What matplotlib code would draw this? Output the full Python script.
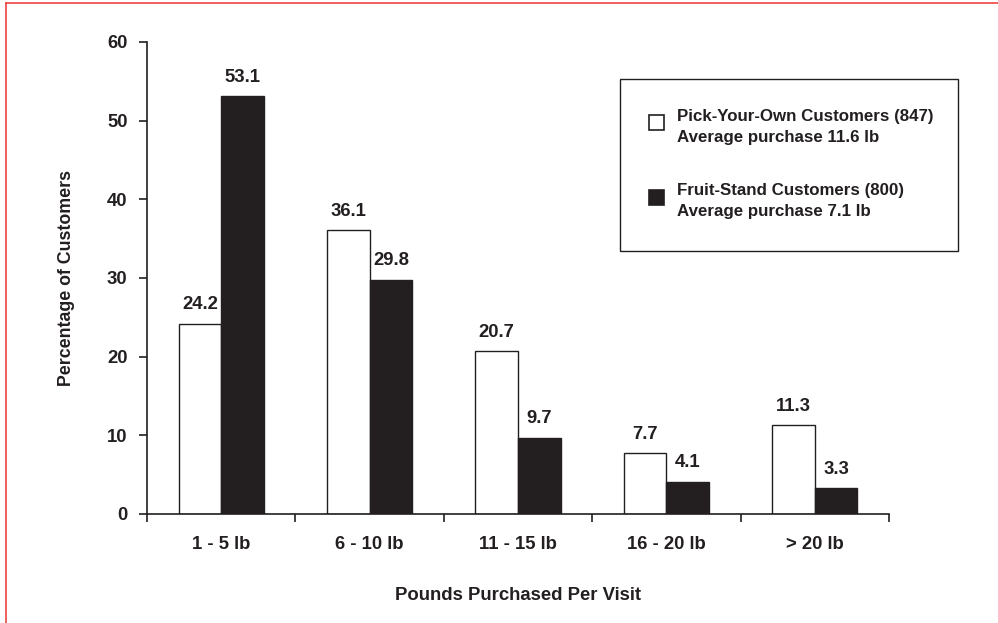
import matplotlib.pyplot as plt
import numpy as np
from matplotlib.patches import Rectangle
from matplotlib.lines import Line2D

plt.rcParams['font.family'] = ['Liberation Sans', 'DejaVu Sans']
plt.rcParams['font.weight'] = 'bold'

categories = ['1 - 5 lb', '6 - 10 lb', '11 - 15 lb', '16 - 20 lb', '> 20 lb']
pick_your_own = [24.2, 36.1, 20.7, 7.7, 11.3]
fruit_stand = [53.1, 29.8, 9.7, 4.1, 3.3]
legend_labels = ['Pick-Your-Own Customers (847)\nAverage purchase 11.6 lb',
                 'Fruit-Stand Customers (800)\nAverage purchase 7.1 lb']

ink = '#231f20'
fs = 13.3
W, H = 998, 623
fig = plt.figure(figsize=(W / 100, H / 100), dpi=100)
ax = fig.add_axes([147 / W, 1 - 514 / H, (889 - 147) / W, (514 - 42) / H])

x = np.arange(len(categories))
bw = 0.287
ax.bar(x - bw / 2, pick_your_own, bw, color='white', edgecolor=ink, linewidth=1.0)
ax.bar(x + bw / 2, fruit_stand, bw, color=ink, edgecolor=ink, linewidth=1.0)

for i in range(len(categories)):
    ax.annotate(f'{pick_your_own[i]:.1f}', (x[i] - bw / 2, pick_your_own[i]),
                xytext=(0, 7.5), textcoords='offset points', ha='center', va='bottom',
                fontsize=fs, fontweight='bold', color=ink)
    ax.annotate(f'{fruit_stand[i]:.1f}', (x[i] + bw / 2, fruit_stand[i]),
                xytext=(0, 7.5), textcoords='offset points', ha='center', va='bottom',
                fontsize=fs, fontweight='bold', color=ink)

ax.set_xlim(-0.5, len(categories) - 0.5)
ax.set_ylim(0, 60)
ax.set_yticks(range(0, 61, 10))
ax.set_xticks(np.arange(-0.5, len(categories), 1.0))
ax.set_xticklabels([])
ax.set_xticks(x, minor=True)
ax.set_xticklabels(categories, minor=True)
ax.tick_params(axis='x', which='minor', length=0, pad=16, labelsize=fs, colors=ink)
ax.tick_params(axis='x', which='major', length=6, width=1.2, direction='in', color=ink)
ax.tick_params(axis='y', length=6, width=1.2, direction='out', pad=8, labelsize=fs,
               colors=ink)
for lab in ax.get_xticklabels(minor=True) + ax.get_yticklabels():
    lab.set_fontweight('bold')
# x ticks hang below the axis line
for t in ax.xaxis.get_major_ticks():
    t.tick1line.set_marker(3)
    t.tick1line.set_markersize(6)

for s in ['top', 'right']:
    ax.spines[s].set_visible(False)
for s in ['left', 'bottom']:
    ax.spines[s].set_color(ink)
    ax.spines[s].set_linewidth(1.2)

ax.set_ylabel('Percentage of Customers', fontsize=12.8, fontweight='bold', color=ink,
              labelpad=23)
ax.set_xlabel('Pounds Purchased Per Visit', fontsize=fs, fontweight='bold', color=ink,
              labelpad=24)

# legend box
box = Rectangle((620 / W, 1 - 251 / H), (958 - 620) / W, (251 - 79) / H,
                transform=fig.transFigure, facecolor='white', edgecolor=ink, linewidth=1.0)
fig.add_artist(box)
for lab, fc, ty, sy in zip(legend_labels, ['white', ink], [127, 201], [122.5, 197]):
    sq = Rectangle((649 / W, 1 - (sy + 7.5) / H), 15 / W, 15 / H, transform=fig.transFigure,
                   facecolor=fc, edgecolor=ink, linewidth=1.2)
    fig.add_artist(sq)
    fig.text(677 / W, 1 - ty / H, lab, fontsize=12.2, fontweight='bold', color=ink,
             va='center', ha='left', linespacing=1.45)

# red frame on left and top
fig.add_artist(Line2D([6 / W, 6 / W], [0, 1 - 3 / H], transform=fig.transFigure,
                      color='#ee4444', linewidth=1.2))
fig.add_artist(Line2D([6 / W, 1], [1 - 3 / H, 1 - 3 / H], transform=fig.transFigure,
                      color='#ee4444', linewidth=1.2))

fig.savefig('out.png', dpi=100)
